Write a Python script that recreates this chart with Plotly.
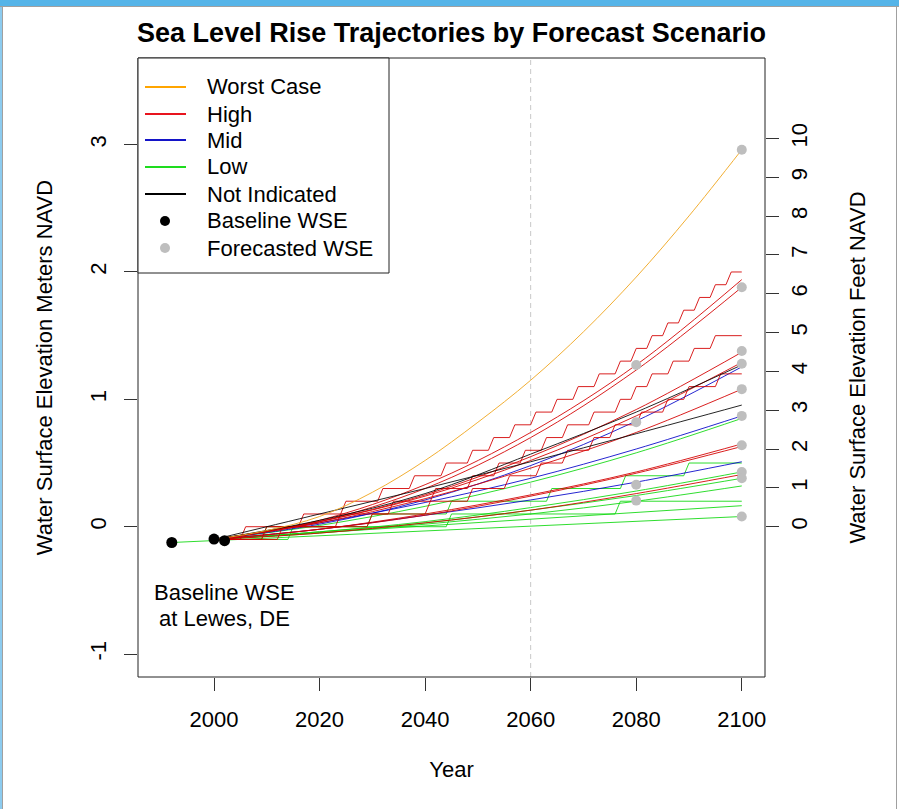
import plotly.graph_objects as go

# ---------------- data ----------------
baseline_years = [1992, 2000, 2002]
baseline_wse = [-0.124, -0.097, -0.11]

forecast_years = [2100, 2100, 2100, 2100, 2100, 2100, 2100, 2100, 2100, 2100, 2080, 2080, 2080, 2080]
forecast_wse = [2.96, 1.88, 1.38, 1.28, 1.08, 0.87, 0.64, 0.43, 0.38, 0.08, 1.27, 0.82, 0.33, 0.205]

worst_years = [2000, 2010, 2020, 2030, 2040, 2050, 2060, 2070, 2080, 2090, 2100]
worst_case = [-0.10, -0.03, 0.08, 0.27, 0.52, 0.82, 1.15, 1.53, 1.96, 2.44, 2.96]

curve_years = [2000, 2020, 2040, 2060, 2080, 2100]
high_curves = [
    [-0.10, 0.05, 0.33, 0.74, 1.27, 1.94],
    [-0.10, 0.04, 0.30, 0.70, 1.23, 1.88],
    [-0.10, 0.04, 0.25, 0.55, 0.92, 1.37],
    [-0.10, 0.04, 0.24, 0.52, 0.87, 1.29],
    [-0.10, 0.03, 0.22, 0.46, 0.74, 1.08],
    [-0.10, -0.02, 0.10, 0.25, 0.43, 0.65],
    [-0.10, -0.02, 0.09, 0.24, 0.42, 0.63],
    [-0.10, -0.05, 0.03, 0.13, 0.26, 0.41],
]
mid_curves = [
    [-0.10, 0.02, 0.21, 0.48, 0.83, 1.255],
    [-0.10, 0.03, 0.19, 0.38, 0.61, 0.87],
    [-0.10, -0.02, 0.09, 0.21, 0.35, 0.51],
]
low_curves = [
    [-0.10, 0.01, 0.16, 0.35, 0.58, 0.85],
    [-0.10, -0.04, 0.04, 0.15, 0.28, 0.43],
    [-0.10, -0.04, 0.03, 0.13, 0.245, 0.38],
    [-0.10, -0.05, 0.02, 0.10, 0.20, 0.32],
]
none_curves = [
    [-0.10, 0.05, 0.26, 0.57, 0.90, 1.27],
    [-0.10, 0.10, 0.30, 0.51, 0.73, 0.955],
]
low_lines_years = [[2000, 2100], [1992, 2100]]
low_lines = [[-0.10, 0.165], [-0.124, 0.08]]

# stair-step trajectories: year each 0.1 m level is first reached
high_stair_levels = [
    [-0.1, 0.0, 0.1, 0.2, 0.3, 0.4, 0.5, 0.6, 0.7, 0.8, 0.9, 1.0, 1.1, 1.2, 1.3, 1.4, 1.5, 1.6, 1.7, 1.8, 1.9, 2.0],
    [-0.1, 0.0, 0.1, 0.2, 0.3, 0.4, 0.5, 0.6, 0.7, 0.8, 0.9, 1.0, 1.1, 1.2, 1.3, 1.4, 1.5],
    [-0.1, 0.0, 0.1, 0.2, 0.3, 0.4, 0.5, 0.6, 0.7, 0.8, 0.9, 1.0, 1.1, 1.2],
]
high_stair_years = [
    [2000, 2006, 2017, 2025, 2032, 2038, 2044, 2049, 2053, 2057, 2061, 2065, 2069, 2073, 2077, 2080, 2083, 2086, 2089, 2092, 2095, 2098],
    [2000, 2010, 2024, 2034, 2042, 2049, 2054, 2059, 2063, 2067, 2072, 2077, 2080, 2083, 2087, 2091, 2095],
    [2000, 2013, 2030, 2041, 2049, 2056, 2062, 2067, 2072, 2076, 2081, 2086, 2090, 2096],
]
low_stair_levels = [
    [-0.1, 0.0, 0.1, 0.2, 0.3, 0.4, 0.5],
    [-0.1, 0.0, 0.1, 0.2],
]
low_stair_years = [
    [2000, 2010, 2030, 2045, 2064, 2078, 2090],
    [2000, 2015, 2045, 2077],
]
stair_end_year = 2100

legend_labels = ["Worst Case", "High", "Mid", "Low", "Not Indicated", "Baseline WSE", "Forecasted WSE"]
legend_colors = ["#FFA500", "#E8141E", "#1414C8", "#1EDC1E", "#000000", "#000000", "#BEBEBE"]

title_text = "Sea Level Rise Trajectories by Forecast Scenario"
x_ticks = [2000, 2020, 2040, 2060, 2080, 2100]
y_ticks_m = [-1, 0, 1, 2, 3]
y_tick_labels_m = ["-1", "0", "1", "2", "3"]
y_ticks_ft = list(range(0, 11))
FT_PER_M = 3.28084

# ---------------- styling ----------------
C_WORST = "rgba(240,170,40,0.95)"
C_HIGH = "rgba(212,0,0,0.88)"
C_MID = "rgba(0,0,200,0.85)"
C_LOW = "rgba(10,215,10,0.85)"
C_NONE = "rgba(0,0,0,0.85)"
FONT = "Liberation Sans, Arial, sans-serif"

W, H = 899, 809
L, R, T, B = 138, 765, 58, 677
XR = [1985.6, 2104.4]
YR = [-1.18, 3.68]


def px(xp):
    return (xp - L) / (R - L)


def py(yp):
    return (B - yp) / (B - T)


def stair_path(years, levels, end_year):
    xs, ys = [years[0]], [levels[0]]
    for i in range(1, len(years)):
        xs += [years[i] - 1, years[i]]
        ys += [levels[i - 1], levels[i]]
    xs.append(end_year)
    ys.append(levels[-1])
    return xs, ys


fig = go.Figure()


def add_line(x, y, color, shape="linear"):
    fig.add_trace(go.Scatter(x=x, y=y, mode="lines", line=dict(color=color, width=1, shape=shape),
                             showlegend=False, hoverinfo="skip"))


for yrs, lev in zip(low_stair_years, low_stair_levels):
    xs, ys = stair_path(yrs, lev, stair_end_year)
    add_line(xs, ys, C_LOW)
for yrs, vals in zip(low_lines_years, low_lines):
    add_line(yrs, vals, C_LOW)
for vals in low_curves:
    add_line(curve_years, vals, C_LOW, "spline")
for vals in mid_curves:
    add_line(curve_years, vals, C_MID, "spline")
for vals in high_curves:
    add_line(curve_years, vals, C_HIGH, "spline")
for yrs, lev in zip(high_stair_years, high_stair_levels):
    xs, ys = stair_path(yrs, lev, stair_end_year)
    add_line(xs, ys, C_HIGH)
for vals in none_curves:
    add_line(curve_years, vals, C_NONE, "spline")
add_line(worst_years, worst_case, C_WORST, "spline")

fig.add_trace(go.Scatter(x=forecast_years, y=forecast_wse, mode="markers",
                         marker=dict(color="#BEBEBE", size=10, line=dict(width=0)),
                         showlegend=False, hoverinfo="skip"))
fig.add_trace(go.Scatter(x=baseline_years, y=baseline_wse, mode="markers",
                         marker=dict(color="#000000", size=11, line=dict(width=0)),
                         showlegend=False, hoverinfo="skip"))
# secondary (feet) axis carrier
fig.add_trace(go.Scatter(x=[None], y=[None], yaxis="y2", showlegend=False, hoverinfo="skip"))

shapes = []
# 2060 reference line
shapes.append(dict(type="line", xref="x", yref="paper", x0=2060, x1=2060, y0=0, y1=1,
                   line=dict(color="#C8C8C8", width=1, dash="5px,4px"), layer="below"))
# plot box
shapes.append(dict(type="rect", xref="paper", yref="paper", x0=0, x1=1, y0=0, y1=1,
                   line=dict(color="#222222", width=1)))
# legend box
lg_left, lg_right, lg_top, lg_bot = 138, 389, 58, 273
shapes.append(dict(type="rect", xref="paper", yref="paper", x0=px(lg_left), x1=px(lg_right),
                   y0=py(lg_bot), y1=py(lg_top), line=dict(color="#222222", width=1),
                   fillcolor="white", layer="above"))
annotations = []
row_y = [87, 114, 140, 167, 194, 221, 248]
for i, (lab, col) in enumerate(zip(legend_labels, legend_colors)):
    yy = row_y[i]
    if i < 5:
        shapes.append(dict(type="line", xref="paper", yref="paper", x0=px(145), x1=px(186),
                           y0=py(yy), y1=py(yy), line=dict(color=col, width=2.2), layer="above"))
    else:
        r = 5
        shapes.append(dict(type="circle", xref="paper", yref="paper", x0=px(165 - r), x1=px(165 + r),
                           y0=py(yy + r), y1=py(yy - r), fillcolor=col, line=dict(width=0), layer="above"))
    annotations.append(dict(text=lab, xref="paper", yref="paper", x=px(205), y=py(yy),
                            xanchor="left", yanchor="middle", showarrow=False,
                            font=dict(family=FONT, size=22, color="black")))

# screenshot window frame
shapes.append(dict(type="rect", xref="paper", yref="paper", x0=px(0), x1=px(W), y0=py(0), y1=py(6),
                   fillcolor="#55B4E8", line=dict(width=0), layer="above"))
shapes.append(dict(type="rect", xref="paper", yref="paper", x0=px(0), x1=px(2), y0=py(6), y1=py(H),
                   fillcolor="#8CCBEF", line=dict(width=0), layer="above"))
shapes.append(dict(type="line", xref="paper", yref="paper", x0=px(2.5), x1=px(2.5), y0=py(6), y1=py(H),
                   line=dict(color="#A0A0A0", width=1), layer="above"))
shapes.append(dict(type="line", xref="paper", yref="paper", x0=px(896.5), x1=px(896.5), y0=py(6), y1=py(H),
                   line=dict(color="#A0A0A0", width=1), layer="above"))
shapes.append(dict(type="line", xref="paper", yref="paper", x0=px(0), x1=px(W), y0=py(6.5), y1=py(6.5),
                   line=dict(color="#A0A0A0", width=1), layer="above"))

annotations.append(dict(text="Baseline WSE", x=2002, y=-0.52, xref="x", yref="y", showarrow=False,
                        xanchor="center", yanchor="middle", font=dict(family=FONT, size=22, color="black")))
annotations.append(dict(text="at Lewes, DE", x=2002, y=-0.724, xref="x", yref="y", showarrow=False,
                        xanchor="center", yanchor="middle", font=dict(family=FONT, size=22, color="black")))

axis_common = dict(showgrid=False, zeroline=False, showline=False, ticks="outside", ticklen=13,
                   tickwidth=1, tickcolor="#333333", tickfont=dict(family=FONT, size=22, color="black"))

fig.update_layout(
    width=W, height=H,
    margin=dict(l=L, r=W - R, t=T, b=H - B),
    paper_bgcolor="white", plot_bgcolor="white",
    showlegend=False,
    title=dict(text="<b>" + title_text + "</b>", x=(L + R) / 2 / W, xanchor="center",
               y=1 - 33 / H, yanchor="middle", font=dict(family=FONT, size=27, color="black")),
    xaxis=dict(range=XR, tickmode="array", tickvals=x_ticks, ticklabelstandoff=10,
               title=dict(text="Year", font=dict(family=FONT, size=22, color="black"), standoff=30),
               **axis_common),
    yaxis=dict(range=YR, tickmode="array", tickvals=y_ticks_m, ticktext=y_tick_labels_m,
               tickangle=-90, ticklabelstandoff=9,
               title=dict(text="Water Surface Elevation Meters NAVD", font=dict(family=FONT, size=22, color="black"),
                          standoff=27),
               **axis_common),
    yaxis2=dict(range=[YR[0] * FT_PER_M, YR[1] * FT_PER_M], overlaying="y", side="right", tickmode="array",
                tickvals=y_ticks_ft, tickangle=-90, ticklabelstandoff=2,
                title=dict(text="Water Surface Elevation Feet NAVD", font=dict(family=FONT, size=22, color="black"),
                           standoff=38),
                **axis_common),
    shapes=shapes,
    annotations=annotations,
)

fig.write_html("out.html", config={"displayModeBar": False},
               post_script="document.body.style.margin='0px';")
